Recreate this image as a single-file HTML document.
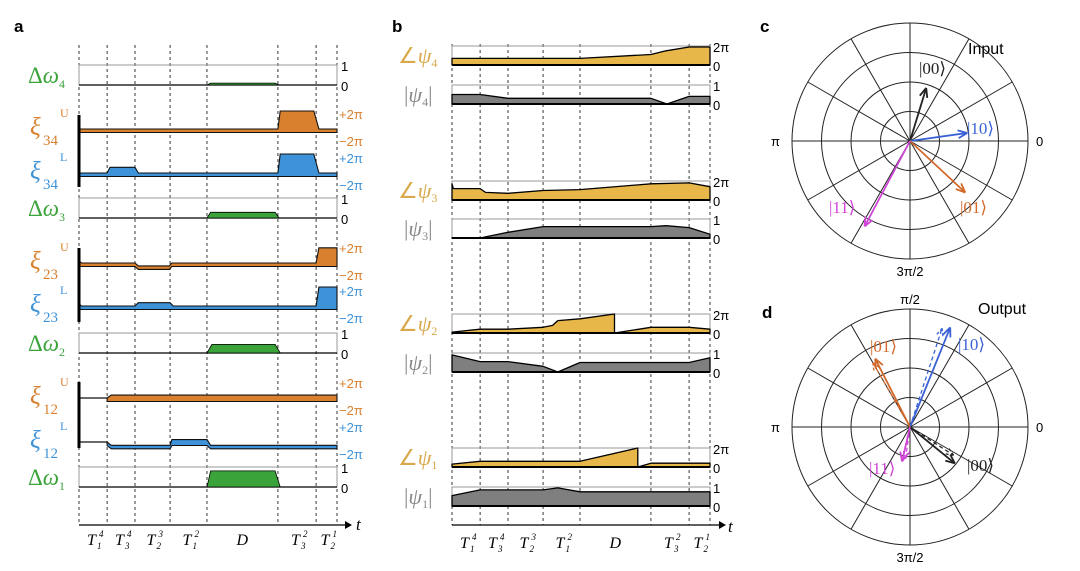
<!DOCTYPE html>
<html><head><meta charset="utf-8">
<style>
html,body{margin:0;padding:0;background:#fff;}
svg{display:block;font-family:"Liberation Sans",sans-serif;}
.ser{font-family:"Liberation Serif",serif;font-style:italic;}
</style></head>
<body>
<svg id="fig" width="1080" height="571" viewBox="0 0 1080 571" xmlns="http://www.w3.org/2000/svg">
<text x="14" y="32" font-size="17" font-weight="bold">a</text>
<text x="392" y="32" font-size="17" font-weight="bold">b</text>
<text x="760" y="32" font-size="17" font-weight="bold">c</text>
<text x="762" y="318" font-size="17" font-weight="bold">d</text>
<text x="968" y="54" font-size="16">Input</text>
<text x="978" y="314" font-size="16">Output</text>
<g id="ga"></g>
<g id="gb"></g>
<g id="gc"></g>
<g id="gd"></g>
</svg>
<script>
// ---- time data ----
const phaseBounds = [0, 1.09, 2.17, 3.53, 4.96, 7.71, 9.19, 10];
const tickLabelsA = [["T","1","4"],["T","3","4"],["T","2","3"],["T","1","2"],["D","",""],["T","3","2"],["T","2","1"]];
// ---- panel a series: [time, value] ; Δω in 0..1, ξ in units of π ----
const dw4 = [[0,0],[4.96,0],[5.1,0.1],[7.6,0.1],[7.75,0],[10,0]];
const dw3 = [[0,0],[4.96,0],[5.1,0.3],[7.6,0.3],[7.75,0],[10,0]];
const dw2 = [[0,0],[4.96,0],[5.15,0.45],[7.6,0.45],[7.8,0],[10,0]];
const dw1 = [[0,0],[4.96,0],[5.1,0.85],[7.6,0.85],[7.8,0],[10,0]];
const xi34U = [[0,0],[7.71,0],[7.8,1.9],[9.1,1.9],[9.3,0],[10,0]];
const xi34L = [[0,0],[1.09,0],[1.2,0.6],[2.17,0.6],[2.3,0],[7.71,0],[7.8,2],[9.1,2],[9.3,0],[10,0]];
const xi23U = [[0,0.2],[0.1,0],[2.17,0],[2.3,-0.3],[3.5,-0.3],[3.6,0],[9.19,0],[9.3,1.6],[10,1.6]];
const xi23L = [[0,0.2],[0.1,0],[2.17,0],[2.3,0.35],[3.53,0.35],[3.65,0],[9.19,0],[9.3,2],[10,2]];
const xi12U = [[0,0],[1.09,0],[1.25,0.3],[10,0.3]];
const xi12L = [[0,0],[1.09,0],[1.25,-0.35],[3.53,-0.35],[3.6,0.25],[4.96,0.25],[5.1,-0.35],[10,-0.35]];
const xi12Start = 1.09; // thin black line before this time
// ---- panel b series: fractions of box (0..1) ----
const ang4 = [[0,0.35],[4.96,0.35],[7.71,0.55],[8.3,0.75],[9.19,0.95],[10,0.95]];
const mag4 = [[0,0.5],[1.09,0.5],[2.17,0.3],[7.71,0.3],[8.33,0],[9.19,0.4],[10,0.4]];
const ang3 = [[0,0.85],[0.05,0.6],[1.09,0.6],[1.3,0.4],[2.17,0.35],[3.53,0.5],[4.96,0.55],[7.71,0.85],[9.19,0.9],[10,0.7]];
const mag3 = [[0,0],[1.09,0],[2.17,0.3],[3.53,0.6],[7.71,0.6],[8.3,0.65],[9.19,0.55],[10,0.2]];
const ang2 = [[0,0.05],[1.09,0.2],[2.17,0.2],[3.53,0.3],[3.9,0.4],[4.1,0.65],[4.96,0.75],[6.3,1],[6.3,0],[7.71,0.3],[9.19,0.3],[10,0.2]];
const mag2 = [[0,0.9],[1.09,0.55],[2.17,0.55],[3.53,0.3],[4.1,0],[4.96,0.5],[9.19,0.5],[10,0.75]];
const ang1 = [[0,0.15],[1.09,0.3],[4.96,0.3],[7.2,1],[7.2,0],[7.71,0.2],[10,0.2]];
const mag1 = [[0,0.55],[1.09,0.85],[3.53,0.85],[4.1,0.95],[4.96,0.75],[10,0.75]];
// ---- polar data: [label, radius fraction, angle deg] ----
const inputStates = [["|00⟩",0.47,73],["|10⟩",0.49,8],["|01⟩",0.64,-43],["|11⟩",0.82,242]];
const outputStates = [["|10⟩",0.91,68],["|01⟩",0.65,117],["|00⟩",0.49,-39],["|11⟩",0.30,257]];
const outputDashed = [["|10⟩",0.88,72],["|01⟩",0.63,120],["|00⟩",0.44,-33],["|11⟩",0.27,262]];
const polarTicks = ["0","π/2","π","3π/2"];

const NS="http://www.w3.org/2000/svg";
function mk(tag, attrs, parent){const e=document.createElementNS(NS,tag);for(const k in attrs)e.setAttribute(k,attrs[k]);parent.appendChild(e);return e;}
const ORANGE="#d9802f", BLUE="#3e92d8", GREEN="#3aa43a", GOLD="#e8b74a", GRAY="#7f7f7f";

function xScale(x0,w){return t=>x0+t/10*w;}

// ---------- Panel A ----------
const ga=document.getElementById('ga');
const xa=xScale(79,258);
phaseBounds.forEach((t,i)=>{
 const l=mk('line',{x1:xa(t),x2:xa(t),y1:45,y2:525,stroke:'#222','stroke-width':0.9,'stroke-dasharray':'3,3'},ga);
 
 
});
const axA=mk('line',{x1:79,x2:345,y1:525,y2:525,stroke:'#000','stroke-width':1.2},ga);

mk('path',{d:'M345,521 L352,525 L345,529 Z',fill:'#000'},ga);
const ta=mk('text',{x:356,y:530,'font-size':17,class:'ser'},ga);ta.textContent='t';


function tickLabels(g,xs,y){
 tickLabelsA.forEach((lb,i)=>{
  const xc=(xs(phaseBounds[i])+xs(phaseBounds[i+1]))/2;
  const t=mk('text',{x:xc-6,y:y,'font-size':16,class:'ser'},g);
  t.textContent=lb[0];
  
  if(lb[1]){const s=mk('text',{x:xc+4,y:y+4,'font-size':9,class:'ser'},g);s.textContent=lb[1];
   const p=mk('text',{x:xc+6,y:y-8,'font-size':9,class:'ser'},g);p.textContent=lb[2];}
 });
}
tickLabels(ga,xa,545);

function dwTrack(data,top,sub){
 const h=20,y=v=>top+h-v*h*0.95;
 mk('rect',{x:79,y:top,width:258,height:h,fill:'none',stroke:'#999','stroke-width':1},ga);
 mk('line',{x1:79,x2:337,y1:top+h,y2:top+h,stroke:'#000','stroke-width':1.3},ga);
 let d='M'+xa(data[0][0])+','+y(0);
 data.forEach(p=>d+=' L'+xa(p[0]).toFixed(1)+','+y(p[1]).toFixed(1));
 d+=' L'+xa(10)+','+y(0)+' Z';
 const pa=mk('path',{d:d,fill:GREEN,stroke:'#000','stroke-width':0.8},ga);
 
 const t1=mk('text',{x:341,y:top+6,'font-size':13},ga);t1.textContent='1';
 const t0=mk('text',{x:341,y:top+h+6,'font-size':13},ga);t0.textContent='0';
 const lb=mk('text',{x:28,y:top+h-2,'font-size':23,fill:GREEN,'font-family':'Liberation Serif'},ga);
 
 const a1=mk('tspan',{},lb);a1.textContent='Δ';
 const a2=mk('tspan',{'font-style':'italic'},lb);a2.textContent='ω';
 const a3=mk('tspan',{'font-size':12,dy:5},lb);a3.textContent=sub;
}
function xiTrack(data,base,color,sup,sub,thinUntil){
 const k=9.5,y=v=>base-v*k;
 const start=thinUntil||0;
 const pts=data.filter(p=>p[0]>=start);
 if(start>0){
  mk('line',{x1:xa(0),x2:xa(start),y1:y(0),y2:y(0),stroke:'#111','stroke-width':1.2},ga);
 }
 let top='',bot=[];
 pts.forEach((p,i)=>{top+=(i?' L':'M')+xa(p[0]).toFixed(1)+','+y(p[1]).toFixed(1);
  bot.push(xa(p[0]).toFixed(1)+','+(Math.max(y(p[1]),base)+3.5).toFixed(1));});
 const d=top+' L'+bot.reverse().join(' L')+' Z';
 const pa=mk('path',{d:d,fill:color,stroke:'#111','stroke-width':1.1},ga);
 
 const tp=mk('text',{x:339,y:base-10,'font-size':13,fill:color},ga);tp.textContent='+2π';
 const tm=mk('text',{x:339,y:base+17,'font-size':13,fill:color},ga);tm.textContent='−2π';
 const lb=mk('text',{x:30,y:base+6,'font-size':25,fill:color,class:'ser'},ga);lb.textContent='ξ';
 
 const s1=mk('text',{x:43,y:base+16,'font-size':15,fill:color,'font-family':'Liberation Serif'},ga);s1.textContent=sub;
 const s2=mk('text',{x:60,y:base-12,'font-size':12,fill:color,'font-family':'Liberation Serif'},ga);s2.textContent=sup;
}
function bar(y1,y2){mk('line',{x1:79,x2:79,y1:y1,y2:y2,stroke:'#000','stroke-width':3},ga);}
dwTrack(dw4,65,'4');
xiTrack(xi34U,129,ORANGE,'U','34');
xiTrack(xi34L,173,BLUE,'L','34');
bar(115,187);
dwTrack(dw3,198,'3');
xiTrack(xi23U,263,ORANGE,'U','23');
xiTrack(xi23L,306,BLUE,'L','23');
bar(248,322);
dwTrack(dw2,333,'2');
xiTrack(xi12U,398,ORANGE,'U','12',xi12Start);
xiTrack(xi12L,442,BLUE,'L','12',xi12Start);
bar(382,448);
dwTrack(dw1,467,'1');

// ---------- Panel B ----------
const gb=document.getElementById('gb');
const xb=xScale(452,258);
phaseBounds.forEach(t=>{
 const l=mk('line',{x1:xb(t),x2:xb(t),y1:44,y2:525,stroke:'#222','stroke-width':0.9,'stroke-dasharray':'3,3'},gb);
 
 
});
const axB=mk('line',{x1:452,x2:720,y1:525,y2:525,stroke:'#000','stroke-width':1.2},gb);

mk('path',{d:'M719,521 L726,525 L719,529 Z',fill:'#000'},gb);
const tb=mk('text',{x:728,y:532,'font-size':17,class:'ser'},gb);tb.textContent='t';

tickLabels(gb,xb,548);

function bTrack(data,top,color,isAng,sub){
 const h=19,y=v=>top+h-v*h;
 mk('rect',{x:452,y:top,width:258,height:h,fill:'none',stroke:'#999','stroke-width':1},gb);
 let d='M'+xb(0)+','+y(0);
 data.forEach(p=>d+=' L'+xb(p[0]).toFixed(1)+','+y(p[1]).toFixed(1));
 d+=' L'+xb(10)+','+y(0)+' Z';
 const pa=mk('path',{d:d,fill:color,stroke:'#000','stroke-width':1.3,'stroke-linejoin':'round'},gb);
 
 mk('line',{x1:452,x2:710,y1:top+h,y2:top+h,stroke:'#000','stroke-width':2},gb);
 const t1=mk('text',{x:713,y:top+6,'font-size':13},gb);t1.textContent=isAng?'2π':'1';
 const t0=mk('text',{x:713,y:top+h+6,'font-size':13},gb);t0.textContent='0';
 const col=isAng?'#d9a84a':'#888';
 const lb=mk('text',{x:isAng?398:404,y:top+h-2,'font-size':22,fill:col,'font-family':'Liberation Serif'},gb);
 
 const p1=mk('tspan',{},lb);p1.textContent=isAng?'∠':'|';
 const p2=mk('tspan',{'font-style':'italic'},lb);p2.textContent='ψ';
 const p3=mk('tspan',{'font-size':12,dy:4},lb);p3.textContent=sub;
 if(!isAng){const p4=mk('tspan',{dy:-4},lb);p4.textContent='|';}
}
bTrack(ang4,46,GOLD,true,'4');
bTrack(mag4,85,GRAY,false,'4');
bTrack(ang3,181,GOLD,true,'3');
bTrack(mag3,219,GRAY,false,'3');
bTrack(ang2,314,GOLD,true,'2');
bTrack(mag2,353,GRAY,false,'2');
bTrack(ang1,448,GOLD,true,'1');
bTrack(mag1,487,GRAY,false,'1');

// ---------- Polar ----------
const stateColor={"|00⟩":"#222","|10⟩":"#3a62d6","|01⟩":"#d2692a","|11⟩":"#cf45d6"};
function polar(g,cx,cy,R,states,dashed,labelPos,showTop){
 [0.25,0.5,0.75,1].forEach(f=>{
  const c=mk('circle',{cx:cx,cy:cy,r:R*f,fill:'none',stroke:'#222','stroke-width':1},g);
  
 });
 for(let a=0;a<360;a+=30){
  const r=a*Math.PI/180;
  mk('line',{x1:cx,y1:cy,x2:cx+R*Math.cos(r),y2:cy-R*Math.sin(r),stroke:'#222','stroke-width':1},g);
 }
 const tk=[[cx+R+8,cy+5,'start'],[cx,cy-R-5,'middle'],[cx-R-12,cy+5,'end'],[cx,cy+R+17,'middle']];
 polarTicks.forEach((s,i)=>{
  if(i===1&&!showTop)return;
  const t=mk('text',{x:tk[i][0],y:tk[i][1],'font-size':13,'text-anchor':tk[i][2]},g);t.textContent=s;
  
 });
 function arrow(st,dash){
  const col=stateColor[st[0]],a=st[2]*Math.PI/180,r=st[1]*R;
  const ex=cx+r*Math.cos(a),ey=cy-r*Math.sin(a);
  const ln=mk('line',{x1:cx,y1:cy,x2:ex,y2:ey,stroke:col,'stroke-width':dash?1.3:1.8,'stroke-dasharray':dash?'4,3':'none'},g);
  
  const hl=10;
  [a+Math.PI-0.4,a+Math.PI+0.4].forEach(b=>{
   mk('line',{x1:ex,y1:ey,x2:ex+hl*Math.cos(b),y2:ey-hl*Math.sin(b),stroke:col,'stroke-width':dash?1.3:1.8,'stroke-dasharray':dash?'3,2':'none'},g);
  });
 }
 states.forEach(s=>arrow(s,false));
 if(dashed) dashed.forEach(s=>arrow(s,true));
 states.forEach((s,i)=>{
  const p=labelPos[i];
  const t=mk('text',{x:p[0],y:p[1],'font-size':17,fill:stateColor[s[0]],'font-family':'Liberation Serif'},g);
  t.textContent=s[0];
  
 });
}
polar(document.getElementById('gc'),910,141,118,inputStates,null,[[919,74],[967,134],[960,213],[829,213]],false);
polar(document.getElementById('gd'),910,427,118,outputStates,outputDashed,[[958,350],[870,352],[967,471],[869,474]],true);
</script>
</body></html>
